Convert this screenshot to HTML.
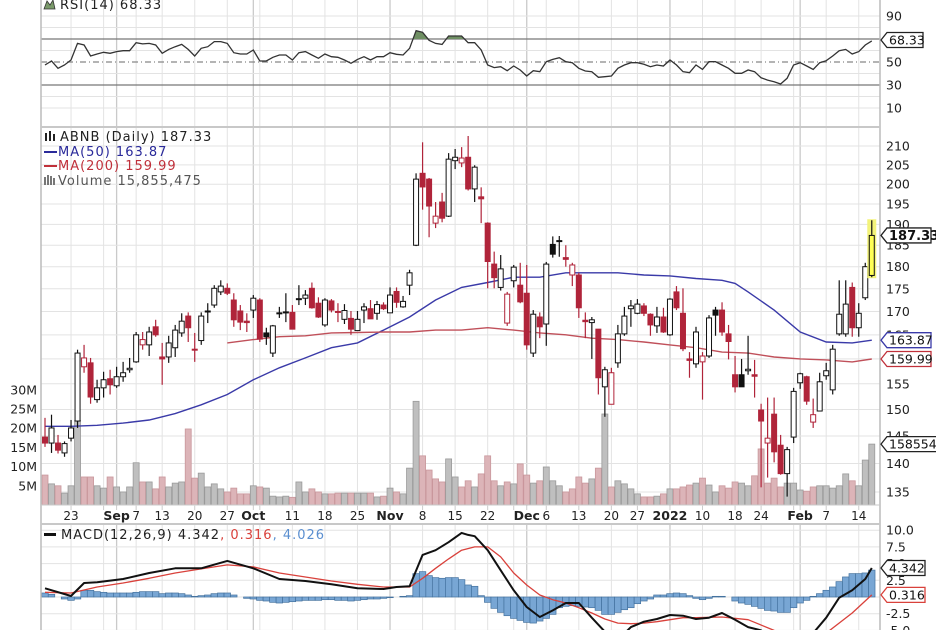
<!DOCTYPE html>
<html><head><meta charset="utf-8"><style>
html,body{margin:0;padding:0;background:#fff;}
svg{display:block;font-family:"DejaVu Sans","Liberation Sans",sans-serif;}
.lg{font-size:13px;letter-spacing:1px;}
</style></head><body>
<svg id="chart" width="936" height="630" viewBox="0 0 936 630" xmlns="http://www.w3.org/2000/svg">
<defs>
<clipPath id="cpPrice"><rect x="41" y="128" width="839" height="377"/></clipPath>
<clipPath id="cpRsi"><rect x="41" y="0" width="839" height="126"/></clipPath>
<clipPath id="cpRsiHi"><rect x="41" y="0" width="839" height="39"/></clipPath>
<clipPath id="cpMacd"><rect x="41" y="525" width="839" height="105"/></clipPath>
</defs>
<g id="grid"></g>
<g id="rsi"></g>
<g id="vol" clip-path="url(#cpPrice)"></g>
<g id="ma" clip-path="url(#cpPrice)"></g>
<g id="candles" clip-path="url(#cpPrice)"></g>
<g id="macd"></g>
<g id="frame"></g>
<g id="axes"></g>
<g id="legends">
  <g>
    <path d="M44,9 L47,1 L50,5 L53,0 L55,9 Z" fill="#7a9a6a" stroke="#333" stroke-width="0.8"/>
    <text class="lg" x="60" y="9" fill="#222">RSI(14) 68.33</text>
  </g>
  <g>
    <g fill="#222"><rect x="45" y="133" width="2" height="8"/><rect x="49" y="131" width="2" height="10"/><rect x="53" y="134" width="2" height="7"/></g>
    <text class="lg" x="60" y="141" fill="#222">ABNB (Daily) 187.33</text>
    <rect x="44" y="151" width="13" height="2" fill="#2a2a9a"/>
    <text class="lg" x="58" y="156" fill="#2a2a9a">MA(50) 163.87</text>
    <rect x="44" y="165" width="13" height="2" fill="#c0303a"/>
    <text class="lg" x="58" y="170" fill="#c0303a">MA(200) 159.99</text>
    <g fill="#777"><rect x="44" y="177" width="2" height="8"/><rect x="47" y="175" width="2" height="10"/><rect x="50" y="176" width="2" height="9"/><rect x="53" y="178" width="2" height="7"/></g>
    <text class="lg" x="58" y="185" fill="#555">Volume 15,855,475</text>
  </g>
  <g>
    <rect x="44" y="533" width="12" height="3" fill="#111"/>
    <text class="lg" x="61" y="539"><tspan fill="#222">MACD(12,26,9) 4.342</tspan><tspan fill="#d9413b">, 0.316</tspan><tspan fill="#5b8fd0">, 4.026</tspan></text>
  </g>
</g>
<g id="tags"></g>
</svg>
<script>
// ---------- data ----------
const O=[144.8,143.7,143.7,141.9,144.6,147.8,158.4,159.2,151.9,154.2,156,154.6,156.4,157.8,159.4,162.9,162.9,166.7,160.4,160.4,162.3,165.4,169,162,163.8,169.9,171.4,174.3,175.1,172.5,170.1,167.9,170.3,172.5,165.4,161.2,169.6,169.7,169.8,172.6,172.9,175.1,171.8,167.1,172.3,170,
168.3,168.5,165.9,170.3,170.6,169.6,171.4,169.7,174.4,171,175.8,185,202.8,201.3,190.3,195.5,192,206.1,205.5,207,198.8,196.8,190.3,180.6,175.3,167.5,176.8,175.8,174,161.2,168.8,167.3,185.2,185.9,182.1,178.1,178.1,168.1,167.6,166.2,154.4,151,
159.2,165.2,170.6,169.6,171.2,169.4,166.9,168.8,165,174.3,169.6,160,159,159.4,160.6,170.3,170.3,165.2,156.8,156.8,157.6,156.8,149.9,143.7,149.1,143.3,138.2,144.8,155.2,156.4,147.6,149.7,156.6,153.8,165.2,165.2,175.3,166.5,173,178];
const H=[148.4,149,145.2,144,148,161.9,162.9,160.2,155.8,157.4,157.8,158.4,159.4,160.2,165.6,165.6,166.7,168.2,163.3,164.8,167.1,169.6,169.8,165.4,169.8,171.8,175.8,176.9,176.2,174,171.4,169.6,173.6,172.9,166.5,167.1,171,174,171.4,175.8,174.7,176.4,173.1,172.9,172.7,171.8,
171.6,170.1,170.1,171.8,172.5,172.3,172,175.3,175.3,173.4,179.3,202.8,211,201.6,195.5,197.8,208.1,209.2,209.7,212.7,204.9,199.2,190.5,183.5,182.7,174.3,180.4,180.9,180.4,170.3,169.8,181.1,187.1,187.2,185,180.9,178.6,169.8,168.8,166.2,158.4,158.2,
167.1,171,172.5,172.7,171.8,169.6,171,170.8,172.9,175.6,175.1,161.4,166.7,161.4,169.2,171,172,167.1,160.6,160,164.8,159.8,151.1,152.3,152.3,145.2,143,154.2,157.2,156.6,152.1,157.2,159.2,162.9,176.9,176.9,176.4,171.8,180.9,191];
const L=[143,141.9,141.8,141.2,144,146.5,157.2,151.1,151.3,152.3,152.9,154.2,155.4,157.2,159.2,161.9,160.6,164.6,154.8,159.2,160.4,164.6,163.5,159.4,162.9,167.5,170.8,173.6,173.6,166.7,166,165.6,168.6,163.5,162.9,160.4,168.6,167.7,166.2,171.4,171.4,170.6,168.6,166.7,169.8,167.7,
167.3,165,166,167.5,168.6,168.2,170.3,170.3,170.8,170.8,173.6,184.8,193.6,186.9,189.1,190.5,191.8,203.9,204.4,198.4,195.5,190.3,175.1,175.1,174.6,166.9,175.3,171.8,161.9,160.4,164.3,162.7,182.1,182.3,180,175.6,168.6,164.3,160,152.9,148.6,151,
158.2,164.8,166.7,169.4,169,164.8,165.4,165.4,164.8,170.3,161.6,156.2,158.2,151.9,160.2,164.8,164.8,159.9,153.3,155.4,156.8,152.3,135.8,137.5,140.2,138,134.2,143.7,154,150.9,146.5,149.7,155.8,152.9,164.8,164.6,164.6,164.6,172.5,177.6];
const C=[143.7,146.5,142.4,143.6,146.5,161.2,160.2,152.4,154.2,155.8,154.8,156.4,157.2,158.1,165,164,165.6,165,160,163.3,166,167.9,166.5,161.9,169,170.1,175.1,175.6,174,168.2,167.7,167.6,172.9,164.1,164.6,166.9,169.7,169.9,166.2,172.8,173.6,170.8,168.8,172.5,170.3,169.8,
170.2,166.2,168.3,171,168.4,171.5,170.6,173.6,172,172.2,178.6,201.3,199.3,194.5,192,191.5,206.5,207,206.8,198.8,204.4,196.3,181.2,177.5,179.5,173.8,179.9,172.1,162.9,169.4,166.7,180.6,182.9,186.1,181.7,180.4,170.8,167.8,168.2,156.2,157.8,157.2,
165.2,169,171.2,171.6,169.6,167.1,168.8,165.6,172.7,170.8,162.1,159.7,165.6,160.6,168.6,169.2,165.6,163.6,154.4,154.4,157.9,156.5,147.8,144.6,142.1,138.2,142.5,153.5,157,151.6,149,155.4,157.6,162,169.4,171.6,166.5,169.6,180,187.33];
const VOL=[7.8,5.5,5,3.1,5,22,7.3,7.3,5,4.4,7.3,4.7,3.4,4.7,11,6,6,4.2,7.3,4.7,5.7,6,19.8,7,8.3,4.7,5.5,4.2,3.4,4.4,2.9,2.9,5,4.7,4.4,2.3,2.1,2.3,2,6,3.4,4.2,3.4,2.9,2.9,3.1,3.1,3.1,3.1,3.1,3.1,2.1,2.3,4.4,3.4,2.9,9.6,27,12.8,9.1,6.8,6,12,7.3,4.7,
6.3,4.7,8.1,12.8,6.3,5,6,5.5,10.7,7.8,5.7,6.3,9.9,6.3,5,3.4,4.2,7.3,5.7,6.8,9.6,23.7,4.7,6.3,5.5,4.2,2.9,2.1,2.1,2.3,2.9,4.2,4.2,4.7,5.2,5.7,7,5.2,3.4,5,4.4,6,5.7,5,7.6,14.6,5.7,7,4.7,5.7,5.7,3.9,3.6,4.7,5,5,4.4,5,8.1,6.3,5,11.7,15.86];
const RSI=[47.4,50.9,44.5,47.4,51.7,66.2,64.8,55.2,57,58.4,57.6,59,59.8,59.8,66.8,65.7,66.2,64.8,57.6,61,63.3,65.3,61,55.2,61.9,63.3,67.7,67.7,66.2,58.1,57,57,60.4,50.9,50.9,54.1,56.1,56.1,51.7,58.1,59,56.1,53.2,57,54.6,54.1,51.7,48.9,52.3,54.6,51.7,54.6,54.6,58.1,56.7,56.1,61.9,77.2,75.8,68.9,66.2,65.3,72.6,72.6,72.6,
66.8,66.8,60.4,47.4,45.1,45.9,42.4,46.5,43,37.8,42.4,41.6,50.3,52.3,53.7,50.3,49.4,44.5,42.2,41.6,36.7,37.2,37.8,44.5,47.4,49.4,49.4,48,45.9,47.4,46.5,51.7,47.4,41.6,40.7,47.4,43.6,50.3,50.3,47.4,44.5,40.2,40.2,43,41.6,36.3,34.3,32.9,30.9,35.8,47.4,49.4,46.5,43.6,49.4,51.1,55.2,59.8,61,57,59,64.8,68.33];
const MA50_IDX=[0,4,8,12,16,20,24,28,32,36,40,44,48,52,56,60,64,68,72,76,80,84,88,92,96,100,104,106,108,112,116,120,124,127];
const MA50=[146.8,146.8,147,147.4,148,149.2,150.9,152.9,155.8,158.2,160.2,162.3,163.3,166,168.8,172.5,175.3,176.4,177.6,177.6,178.6,178.6,178.6,178.1,177.9,177.3,176.9,176.2,174.3,170.3,165.6,163.5,163.3,163.87];
const MA200_IDX=[28,32,36,40,44,48,52,56,60,64,68,72,76,80,84,88,92,96,100,104,108,112,116,120,124,127];
const MA200=[163.3,164,164.6,164.8,165.4,165.5,165.6,165.6,166,166,166.5,166,165.4,165,164.3,164,163.5,162.9,162.3,161.4,161.2,160.4,160,159.8,159.4,159.99];
const MACD_IDX=[0,4,6,8,12,16,20,24,28,32,36,40,44,48,52,54,56,58,60,62,64,65,66,68,70,72,74,76,78,80,82,84,86,88,90,92,94,96,98,100,102,104,106,108,110,112,114,116,118,120,122,124,126,127];
const MACD=[1.3,0.15,2.1,2.2,2.7,3.6,4.3,4.3,5.4,4.3,2.7,2.4,1.9,1.3,1.2,1.5,1.6,6.3,7,8.2,9.6,9.3,9.1,7,4,1,-1.5,-3,-2,-0.9,-0.9,-3.1,-5.2,-6.4,-4.5,-3.7,-3.3,-2.7,-2.8,-3.3,-3.1,-2.4,-3.4,-4.5,-5,-6.4,-7,-6.4,-5.4,-3.1,-0.1,1,2.7,4.342];
const SIG_IDX=[0,4,8,12,16,20,24,28,32,36,40,44,48,52,56,58,60,62,64,66,68,70,72,74,76,78,80,82,84,86,88,90,92,94,96,98,100,104,108,112,116,120,124,127];
const SIG=[0.7,0.6,1.5,2.1,2.8,3.6,4.2,4.8,4.5,3.6,3,2.4,1.9,1.5,1.5,2.8,4.3,5.7,7,7.5,7.5,6,3.6,1.8,0.3,-0.4,-0.9,-1.6,-2.4,-3.3,-3.9,-4,-3.9,-3.7,-3.4,-3.1,-3.1,-3,-3.4,-5,-6.4,-5.4,-2.4,0.316];
const HIST=[0.6,0.4,0,-0.3,-0.5,-0.3,1,1,0.8,0.7,0.6,0.6,0.6,0.6,0.7,0.8,0.8,0.8,0.5,0.6,0.6,0.5,0.3,0.1,0.2,0.3,0.5,0.6,0.6,0.3,0,-0.2,-0.3,-0.5,-0.6,-0.8,-0.9,-0.8,-0.7,-0.6,-0.5,-0.5,-0.5,-0.4,-0.4,-0.5,-0.5,-0.6,-0.5,-0.4,-0.3,-0.3,-0.2,-0.1,0,0.1,0.2,3.5,3.8,3.2,2.9,2.8,2.9,2.9,2.6,
1.8,1.6,0.2,-0.8,-1.7,-2.3,-2.8,-3.2,-3.5,-3.8,-3.9,-3.6,-3.2,-2.6,-1.6,-1.4,-1.3,-1.4,-1.5,-1.6,-2,-2.6,-2.6,-2.3,-1.9,-1.6,-1,-0.6,-0.3,0.3,0.3,0.5,0.6,0.5,0.2,-0.2,-0.4,-0.2,0.1,0.1,0,-0.6,-0.9,-1.1,-1.4,-1.7,-2,-2.1,-2.3,-2.3,-1.6,-0.9,-0.5,0.1,0.5,1,1.5,2.3,3,3.5,3.5,3.6,4.026];
const WEEK_IDX=[4,9,14,18,23,28,33,38,43,48,58,63,68,72,77,82,87,91,101,106,110,115,120,125];
const MONTH_IDX=[11,32,53,74,96,116];
const X_LABELS=[[4,"23",0],[11,"Sep",1],[14,"7",0],[18,"13",0],[23,"20",0],[28,"27",0],[32,"Oct",1],[38,"11",0],[43,"18",0],[48,"25",0],[53,"Nov",1],[58,"8",0],[63,"15",0],[68,"22",0],[74,"Dec",1],[77,"6",0],[82,"13",0],[87,"20",0],[91,"27",0],[96,"2022",1],[101,"10",0],[106,"18",0],[110,"24",0],[116,"Feb",1],[120,"7",0],[125,"14",0]];
const PRICE_TICKS=[135,140,145,150,155,160,165,170,175,180,185,190,195,200,205,210];
const RSI_TICKS=[90,50,30,10];
const VOL_TICKS=[5,10,15,20,25,30];
const MACD_TICKS=[10,7.5,5,2.5,-2.5,-5];

// ---------- scales ----------
const NS="http://www.w3.org/2000/svg";
const xi=i=>45+i*6.51;
const yP=p=>146+783*Math.log(210/p);
const yV=v=>505-v*3.84;
const yR=r=>39+(70-r)*1.15;
const yM=m=>597-m*6.68;
function el(parent,tag,attrs,text){const e=document.createElementNS(NS,tag);for(const k in attrs)e.setAttribute(k,attrs[k]);if(text!==undefined)e.textContent=text;document.getElementById(parent).appendChild(e);return e;}

// ---------- grid ----------
for(const i of WEEK_IDX){const g=el('grid','line',{x1:xi(i),x2:xi(i),y1:0,y2:630,stroke:'#e3e3e3','stroke-width':1});

}
for(const i of MONTH_IDX){const g=el('grid','line',{x1:xi(i),x2:xi(i),y1:0,y2:630,stroke:'#cacaca','stroke-width':1.3});

}
for(const p of PRICE_TICKS){const g=el('grid','line',{x1:41,x2:880,y1:yP(p),y2:yP(p),stroke:'#e3e3e3','stroke-width':1});

}
for(let r=10;r<=90;r+=10){if(r===30||r===50||r===70)continue;const g=el('grid','line',{x1:41,x2:880,y1:yR(r),y2:yR(r),stroke:'#e3e3e3'});

}
for(const m of [10,7.5,5,2.5,0,-2.5,-5]){const g=el('grid','line',{x1:41,x2:880,y1:yM(m),y2:yM(m),stroke:'#e3e3e3'});

}
const gap=el('grid','rect',{x:41,y:506,width:839,height:18,fill:'#fff'});


for(const i of WEEK_IDX.concat(MONTH_IDX)){const t=el('grid','line',{x1:xi(i),x2:xi(i),y1:506,y2:510,stroke:'#ccc'});

}

// ---------- RSI ----------
for(const [r,c,d] of [[70,'#777',''],[30,'#777',''],[50,'#888','6,3,1,3']]){const l=el('rsi','line',{x1:41,x2:880,y1:yR(r),y2:yR(r),stroke:c,'stroke-width':1.3,'stroke-dasharray':d});

}
let rp=RSI.map((v,i)=>xi(i).toFixed(1)+','+yR(v).toFixed(1));
const rf=el('rsi','polygon',{points:xi(0)+','+yR(70)+' '+rp.join(' ')+' '+xi(RSI.length-1)+','+yR(70),fill:'#6f8f63','clip-path':'url(#cpRsiHi)'});


const rl=el('rsi','polyline',{points:rp.join(' '),fill:'none',stroke:'#333','stroke-width':1.3,'clip-path':'url(#cpRsi)'});



// ---------- volume ----------
VOL.forEach((v,i)=>{const down=i>0?C[i]<C[i-1]:C[i]<O[i];
const r=el('vol','rect',{x:xi(i)-3,y:yV(v),width:6,height:505-yV(v),fill:down?'#dcb4b8':'#bfbfbf',stroke:down?'#c9979c':'#9a9a9a','stroke-width':0.8});

});

// ---------- moving averages ----------
const m50=el('ma','polyline',{points:MA50.map((v,k)=>xi(MA50_IDX[k]).toFixed(1)+','+yP(v).toFixed(1)).join(' '),fill:'none',stroke:'#3a3aa8','stroke-width':1.4});


const m200=el('ma','polyline',{points:MA200.map((v,k)=>xi(MA200_IDX[k]).toFixed(1)+','+yP(v).toFixed(1)).join(' '),fill:'none',stroke:'#c0505a','stroke-width':1.4});



// ---------- candles ----------
O.forEach((o,i)=>{const c=C[i],prev=i>0?C[i-1]:o;const down=c<prev;const col=down?'#b0243a':'#111';const x=xi(i);
const last=i===O.length-1;
if(last){const hl=el('candles','rect',{x:x-4.5,y:yP(H[i])-1,width:9,height:yP(L[i])-yP(H[i])+2,fill:'#f3f37a'});

}
const w=el('candles','line',{x1:x,x2:x,y1:yP(H[i]),y2:yP(L[i]),stroke:col,'stroke-width':1.2});


const top=yP(Math.max(o,c)),bot=yP(Math.min(o,c));
const b=el('candles','rect',{x:x-2.5,y:top,width:5,height:Math.max(1,bot-top),fill:c>=o?(last?'#ffff55':'#fff'):col,stroke:col,'stroke-width':1});

});

// ---------- MACD ----------
HIST.forEach((h,i)=>{const y0=yM(0),y1=yM(h);
const r=el('macd','rect',{x:xi(i)-3.25,y:Math.min(y0,y1),width:6.5,height:Math.abs(y1-y0),fill:'#78a6d4',stroke:'#44729f','stroke-width':0.7,'clip-path':'url(#cpMacd)'});

});
const sl=el('macd','polyline',{points:SIG.map((v,k)=>xi(SIG_IDX[k]).toFixed(1)+','+yM(v).toFixed(1)).join(' '),fill:'none',stroke:'#d9413b','stroke-width':1.3,'stroke-linejoin':'round','clip-path':'url(#cpMacd)'});


const ml=el('macd','polyline',{points:MACD.map((v,k)=>xi(MACD_IDX[k]).toFixed(1)+','+yM(v).toFixed(1)).join(' '),fill:'none',stroke:'#111','stroke-width':2,'stroke-linejoin':'round','clip-path':'url(#cpMacd)'});



// ---------- frames ----------
for(const [x1,y1,x2,y2,c,w] of [[41,0,41,630,'#bbb',1.5],[880,0,880,630,'#bbb',1.5],[41,127,880,127,'#c8c8c8',2],[41,505,880,505,'#c8c8c8',1],[41,524,880,524,'#c8c8c8',2]]){
const f=el('frame','line',{x1,y1,x2,y2,stroke:c,'stroke-width':w});

}

// ---------- axes labels ----------
for(const [i,t,b] of X_LABELS){const tx=el('axes','text',{x:xi(i),y:520,'font-size':b?12.5:12,'font-weight':b?'bold':'normal','text-anchor':'middle',fill:'#222'},t);

}
for(const p of PRICE_TICKS){const t=el('axes','text',{x:886,y:yP(p)+4.5,'font-size':12.5,fill:'#222'},String(p));

}
for(const r of RSI_TICKS){const t=el('axes','text',{x:886,y:yR(r)+4.5,'font-size':12.5,fill:'#222'},String(r));

}
for(const m of MACD_TICKS){const t=el('axes','text',{x:886,y:yM(m)+4.5,'font-size':12.5,fill:'#222'},m.toFixed(1));

}
for(const v of VOL_TICKS){const t=el('axes','text',{x:37,y:yV(v)+4.5,'font-size':12.5,'text-anchor':'end',fill:'#222'},v+'M');

}

// ---------- value tags ----------
function tag(y,text,stroke,bold,w){
const p=el('tags','path',{d:`M881,${y} L887,${y-7.5} L${887+w},${y-7.5} L${887+w},${y+7.5} L887,${y+7.5} Z`,fill:'#fff',stroke:stroke,'stroke-width':1.3});


const t=el('tags','text',{x:889,y:y+4.5,'font-size':bold?13:12.5,'font-weight':bold?'bold':'normal',fill:'#111'},text);

}
tag(40,'68.33','#222',false,36);
tag(yP(187.33),'187.33','#222',true,44);
tag(yP(163.87),'163.87','#3a3aa8',false,44);
tag(yP(159.99),'159.99','#c0303a',false,44);
tag(yV(15.86),'158554','#222',false,52);
tag(yM(4.342),'4.342','#222',false,38);
tag(yM(0.316),'0.316','#d9413b',false,38);
</script>
</body></html>
